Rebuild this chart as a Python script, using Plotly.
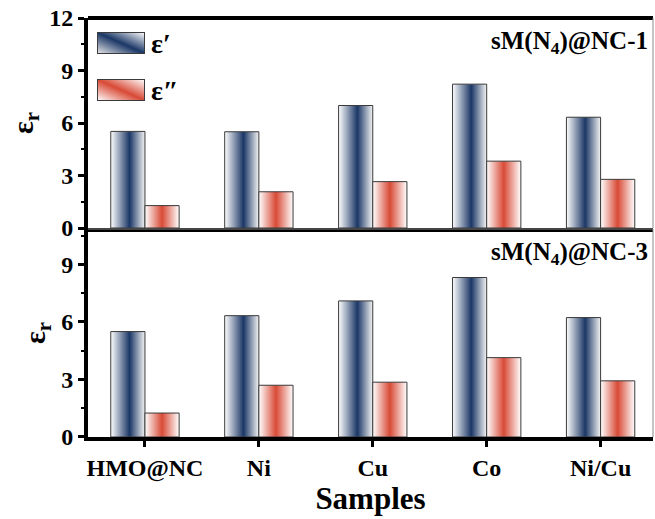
import base64
import plotly.graph_objects as go
from plotly.subplots import make_subplots

categories = ["HMO@NC", "Ni", "Cu", "Co", "Ni/Cu"]
eps_real_1 = [5.52, 5.50, 7.00, 8.22, 6.33]
eps_imag_1 = [1.28, 2.07, 2.65, 3.82, 2.78]
eps_real_3 = [5.50, 6.33, 7.10, 8.32, 6.23]
eps_imag_3 = [1.25, 2.70, 2.86, 4.14, 2.93]
series_names = ["ε′", "ε″"]
panel_labels = ["sM(N<sub>4</sub>)@NC-1", "sM(N<sub>4</sub>)@NC-3"]

FONT = "Liberation Serif"
BAR_W = 0.3
NAVY = "#1b3766"
RED = "#d84a36"
scales = [
    [[0, "#ffffff"], [0.55, NAVY], [1, "#f4f4f4"]],
    [[0, "#ffffff"], [0.5, RED], [1, "#ffffff"]],
]
legend_colors = [NAVY, RED]

fig = make_subplots(rows=2, cols=1, shared_xaxes=True, vertical_spacing=0.0)

panels = [(eps_real_1, eps_imag_1), (eps_real_3, eps_imag_3)]
for r, (re, im) in enumerate(panels, start=1):
    for s, vals in enumerate((re, im)):
        for i, v in enumerate(vals):
            xl = i - BAR_W + s * BAR_W
            xr = xl + BAR_W
            fig.add_trace(go.Scatter(
                x=[xl, xl, xr, xr, xl], y=[0, v, v, 0, 0],
                mode="lines", fill="toself",
                fillgradient=dict(type="horizontal", colorscale=scales[s]),
                fillcolor=legend_colors[s],
                line=dict(color="#3a3a3a", width=1),
                name=series_names[s], legendgroup=series_names[s],
                showlegend=False,
                hoverinfo="skip",
            ), row=r, col=1)

xtickfont = dict(family=FONT, size=24, color="black", weight="bold")
ytickfont = dict(family=FONT, size=24, color="black", weight="bold")
fig.update_xaxes(range=[-0.5, 4.46], tickvals=list(range(len(categories))),
                 ticktext=categories, showgrid=False, zeroline=False,
                 showline=True, linecolor="black", linewidth=4,
                 ticks="outside", ticklen=6, tickwidth=3, tickcolor="black",
                 tickfont=xtickfont)
fig.update_xaxes(ticks="", row=1, col=1)
fig.update_xaxes(title=dict(text="Samples", font=dict(family=FONT, size=31, color="black", weight="bold"), standoff=2), row=2, col=1)

yaxis_common = dict(showgrid=False, zeroline=False, showline=True, linecolor="black",
                    linewidth=4, ticks="outside", ticklen=6, tickwidth=3, tickcolor="black",
                    tickfont=ytickfont,
                    minor=dict(ticks="outside", ticklen=3, tickwidth=2, tickcolor="black", dtick=1.5),
                    title=dict(text="ε<sub>r</sub>", font=dict(family=FONT, size=30, color="black", weight="bold"), standoff=8))
fig.update_yaxes(range=[0, 12], tickvals=[0, 3, 6, 9, 12], row=1, col=1, **yaxis_common)
fig.update_yaxes(range=[0, 10.85], tickvals=[0, 3, 6, 9], row=2, col=1, **yaxis_common)

fig.update_layout(
    width=655, height=519,
    margin=dict(l=88, r=2, t=18, b=82),
    plot_bgcolor="white", paper_bgcolor="white",
    showlegend=False,
)
fig.layout.yaxis.domain = [0.4988, 1]
fig.layout.yaxis2.domain = [0, 0.4964]

# frame lines
fig.add_shape(type="line", xref="paper", yref="y domain", x0=0, x1=1, y0=1, y1=1,
              line=dict(color="black", width=4))
fig.add_shape(type="line", xref="paper", yref="y domain", x0=1, x1=1, y0=0, y1=1,
              line=dict(color="#8a8a8a", width=1))
fig.add_shape(type="line", xref="paper", yref="y2 domain", x0=0, x1=1, y0=1, y1=1,
              line=dict(color="#8a8a8a", width=1))
fig.add_shape(type="line", xref="paper", yref="y2 domain", x0=1, x1=1, y0=0, y1=1,
              line=dict(color="#8a8a8a", width=1))

for k, lab in enumerate(panel_labels):
    fig.add_annotation(text=lab, xref="paper", yref=("y domain" if k == 0 else "y2 domain"),
                       x=0.995, y=0.885 if k == 0 else 0.88, xanchor="right", yanchor="middle",
                       showarrow=False, font=dict(family=FONT, size=25, color="black", weight="bold"))

# legend: gradient swatches (images) + labels
def swatch(color, edge_left):
    svg = (
        '<svg xmlns="http://www.w3.org/2000/svg" width="48" height="22" viewBox="0 0 48 22">'
        '<defs><linearGradient id="g" x1="0" y1="1" x2="1" y2="0">'
        f'<stop offset="0" stop-color="{edge_left}"/>'
        f'<stop offset="0.5" stop-color="{color}"/>'
        '<stop offset="1" stop-color="#ffffff"/>'
        '</linearGradient></defs>'
        '<rect x="0.5" y="0.5" width="47" height="21" fill="url(#g)" stroke="#3a3a3a" stroke-width="1"/>'
        '</svg>'
    )
    return "data:image/svg+xml;base64," + base64.b64encode(svg.encode()).decode()

leg_y = [0.9666, 0.8544]
for s, name in enumerate(series_names):
    fig.add_layout_image(dict(source=swatch(legend_colors[s], "#e8e8ea" if s == 0 else "#ffffff"),
                              xref="paper", yref="paper", x=0.0159, y=leg_y[s],
                              sizex=0.085, sizey=0.0525, sizing="stretch",
                              xanchor="left", yanchor="top", layer="above"))
    fig.add_annotation(text=name, xref="paper", yref="paper", x=0.108, y=leg_y[s] - 0.027,
                       xanchor="left", yanchor="middle", showarrow=False,
                       font=dict(family=FONT, size=28, color="black", weight="bold"))

fig.write_html("out.html")
